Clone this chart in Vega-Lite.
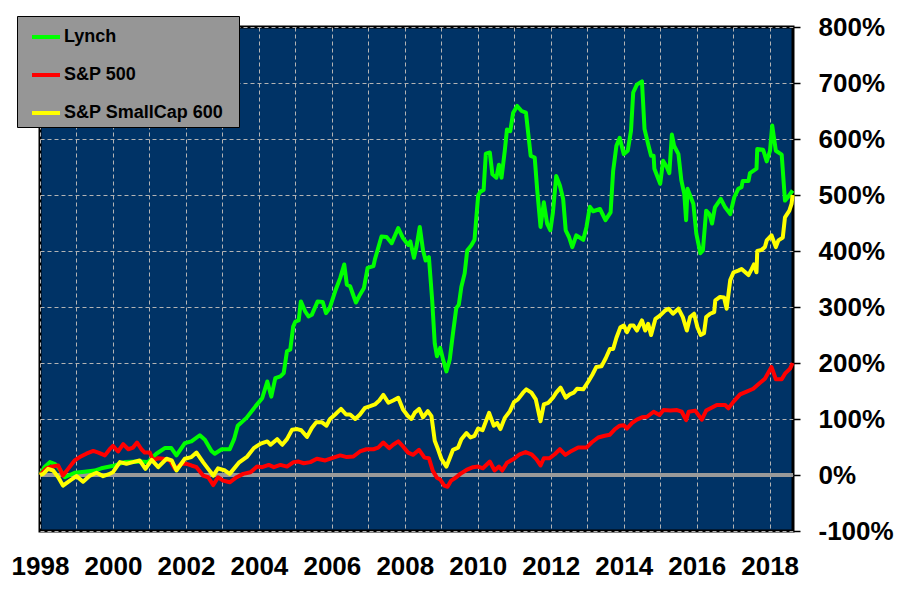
{
  "$schema": "https://vega.github.io/schema/vega-lite/v6.json",
  "width": 753,
  "height": 504,
  "autosize": {"type": "none"},
  "padding": {"left": 40, "top": 27, "right": 108, "bottom": 81},
  "background": "white",
  "config": {
    "view": {"fill": "#003366", "stroke": "black", "strokeWidth": 3},
    "font": "Liberation Sans"
  },
  "encoding": {
    "y": {
      "field": "pct",
      "type": "quantitative",
      "scale": {"domain": [-100, 800], "nice": false, "zero": false},
      "axis": {
        "orient": "right",
        "values": [-100, 0, 100, 200, 300, 400, 500, 600, 700, 800],
        "labelExpr": "datum.value + '%'",
        "title": null,
        "domain": false,
        "ticks": true,
        "tickColor": "black",
        "tickSize": 7,
        "tickWidth": 1.5,
        "labelPadding": 18,
        "labelFont": "Liberation Sans",
        "labelFontSize": 26,
        "labelFontWeight": "bold",
        "labelColor": "black",
        "labelFlush": false,
        "labelOverlap": false,
        "grid": true,
        "gridColor": "#b4b4b4",
        "gridDash": [4, 3],
        "gridWidth": 1
      }
    }
  },
  "layer": [
    {
      "data": {"values": [{"pct": 0}]},
      "mark": {"type": "rule", "color": "#999999", "strokeWidth": 4}
    },
    {
      "data": {
        "values": [
          {"series": "Lynch", "year": 1998.0, "pct": 0},
          {"series": "Lynch", "year": 1998.12, "pct": 14},
          {"series": "Lynch", "year": 1998.27, "pct": 23},
          {"series": "Lynch", "year": 1998.4, "pct": 20},
          {"series": "Lynch", "year": 1998.5, "pct": 14},
          {"series": "Lynch", "year": 1998.68, "pct": -4},
          {"series": "Lynch", "year": 1998.95, "pct": 4},
          {"series": "Lynch", "year": 1999.22, "pct": 6},
          {"series": "Lynch", "year": 1999.5, "pct": 8},
          {"series": "Lynch", "year": 1999.68, "pct": 12},
          {"series": "Lynch", "year": 2000.05, "pct": 17},
          {"series": "Lynch", "year": 2000.32, "pct": 23},
          {"series": "Lynch", "year": 2000.69, "pct": 24},
          {"series": "Lynch", "year": 2000.96, "pct": 23},
          {"series": "Lynch", "year": 2001.19, "pct": 38},
          {"series": "Lynch", "year": 2001.42, "pct": 48},
          {"series": "Lynch", "year": 2001.6, "pct": 48},
          {"series": "Lynch", "year": 2001.74, "pct": 35},
          {"series": "Lynch", "year": 2001.97, "pct": 57},
          {"series": "Lynch", "year": 2002.15, "pct": 60},
          {"series": "Lynch", "year": 2002.38, "pct": 71},
          {"series": "Lynch", "year": 2002.52, "pct": 63},
          {"series": "Lynch", "year": 2002.7, "pct": 43},
          {"series": "Lynch", "year": 2002.79, "pct": 38},
          {"series": "Lynch", "year": 2002.98, "pct": 46},
          {"series": "Lynch", "year": 2003.2, "pct": 46},
          {"series": "Lynch", "year": 2003.32, "pct": 64},
          {"series": "Lynch", "year": 2003.42, "pct": 88},
          {"series": "Lynch", "year": 2003.66, "pct": 102},
          {"series": "Lynch", "year": 2003.91, "pct": 123},
          {"series": "Lynch", "year": 2004.09, "pct": 137},
          {"series": "Lynch", "year": 2004.23, "pct": 167},
          {"series": "Lynch", "year": 2004.34, "pct": 140},
          {"series": "Lynch", "year": 2004.45, "pct": 173},
          {"series": "Lynch", "year": 2004.59, "pct": 176},
          {"series": "Lynch", "year": 2004.68, "pct": 182},
          {"series": "Lynch", "year": 2004.77, "pct": 221},
          {"series": "Lynch", "year": 2004.86, "pct": 224},
          {"series": "Lynch", "year": 2004.94, "pct": 265},
          {"series": "Lynch", "year": 2005.0, "pct": 274},
          {"series": "Lynch", "year": 2005.09, "pct": 276},
          {"series": "Lynch", "year": 2005.15, "pct": 310},
          {"series": "Lynch", "year": 2005.27, "pct": 292},
          {"series": "Lynch", "year": 2005.36, "pct": 283},
          {"series": "Lynch", "year": 2005.45, "pct": 286},
          {"series": "Lynch", "year": 2005.61, "pct": 310},
          {"series": "Lynch", "year": 2005.75, "pct": 309},
          {"series": "Lynch", "year": 2005.84, "pct": 289},
          {"series": "Lynch", "year": 2005.94, "pct": 298},
          {"series": "Lynch", "year": 2006.09, "pct": 328},
          {"series": "Lynch", "year": 2006.23, "pct": 352},
          {"series": "Lynch", "year": 2006.34, "pct": 376},
          {"series": "Lynch", "year": 2006.41, "pct": 340},
          {"series": "Lynch", "year": 2006.5, "pct": 337},
          {"series": "Lynch", "year": 2006.66, "pct": 308},
          {"series": "Lynch", "year": 2006.77, "pct": 322},
          {"series": "Lynch", "year": 2006.88, "pct": 334},
          {"series": "Lynch", "year": 2006.98, "pct": 370},
          {"series": "Lynch", "year": 2007.14, "pct": 373},
          {"series": "Lynch", "year": 2007.18, "pct": 385},
          {"series": "Lynch", "year": 2007.36, "pct": 426},
          {"series": "Lynch", "year": 2007.5, "pct": 425},
          {"series": "Lynch", "year": 2007.64, "pct": 414},
          {"series": "Lynch", "year": 2007.82, "pct": 441},
          {"series": "Lynch", "year": 2007.95, "pct": 423},
          {"series": "Lynch", "year": 2008.09, "pct": 411},
          {"series": "Lynch", "year": 2008.15, "pct": 417},
          {"series": "Lynch", "year": 2008.25, "pct": 388},
          {"series": "Lynch", "year": 2008.32, "pct": 408},
          {"series": "Lynch", "year": 2008.41, "pct": 443},
          {"series": "Lynch", "year": 2008.5, "pct": 401},
          {"series": "Lynch", "year": 2008.57, "pct": 383},
          {"series": "Lynch", "year": 2008.66, "pct": 389},
          {"series": "Lynch", "year": 2008.75, "pct": 312},
          {"series": "Lynch", "year": 2008.82, "pct": 235},
          {"series": "Lynch", "year": 2008.88, "pct": 212},
          {"series": "Lynch", "year": 2008.97, "pct": 227},
          {"series": "Lynch", "year": 2009.05, "pct": 206},
          {"series": "Lynch", "year": 2009.14, "pct": 185},
          {"series": "Lynch", "year": 2009.23, "pct": 206},
          {"series": "Lynch", "year": 2009.32, "pct": 253},
          {"series": "Lynch", "year": 2009.41, "pct": 298},
          {"series": "Lynch", "year": 2009.48, "pct": 304},
          {"series": "Lynch", "year": 2009.55, "pct": 336},
          {"series": "Lynch", "year": 2009.64, "pct": 360},
          {"series": "Lynch", "year": 2009.71, "pct": 401},
          {"series": "Lynch", "year": 2009.82, "pct": 410},
          {"series": "Lynch", "year": 2009.91, "pct": 420},
          {"series": "Lynch", "year": 2010.01, "pct": 499},
          {"series": "Lynch", "year": 2010.07, "pct": 506},
          {"series": "Lynch", "year": 2010.16, "pct": 509},
          {"series": "Lynch", "year": 2010.22, "pct": 574},
          {"series": "Lynch", "year": 2010.33, "pct": 576},
          {"series": "Lynch", "year": 2010.4, "pct": 537},
          {"series": "Lynch", "year": 2010.51, "pct": 531},
          {"series": "Lynch", "year": 2010.58, "pct": 554},
          {"series": "Lynch", "year": 2010.65, "pct": 531},
          {"series": "Lynch", "year": 2010.74, "pct": 579},
          {"series": "Lynch", "year": 2010.8, "pct": 617},
          {"series": "Lynch", "year": 2010.89, "pct": 614},
          {"series": "Lynch", "year": 2010.97, "pct": 647},
          {"series": "Lynch", "year": 2011.08, "pct": 659},
          {"series": "Lynch", "year": 2011.2, "pct": 650},
          {"series": "Lynch", "year": 2011.32, "pct": 647},
          {"series": "Lynch", "year": 2011.45, "pct": 570},
          {"series": "Lynch", "year": 2011.56, "pct": 567},
          {"series": "Lynch", "year": 2011.63, "pct": 508},
          {"series": "Lynch", "year": 2011.72, "pct": 443},
          {"series": "Lynch", "year": 2011.81, "pct": 487},
          {"series": "Lynch", "year": 2011.9, "pct": 449},
          {"series": "Lynch", "year": 2011.99, "pct": 437},
          {"series": "Lynch", "year": 2012.06, "pct": 469},
          {"series": "Lynch", "year": 2012.15, "pct": 534},
          {"series": "Lynch", "year": 2012.25, "pct": 517},
          {"series": "Lynch", "year": 2012.34, "pct": 493},
          {"series": "Lynch", "year": 2012.41, "pct": 437},
          {"series": "Lynch", "year": 2012.5, "pct": 425},
          {"series": "Lynch", "year": 2012.59, "pct": 407},
          {"series": "Lynch", "year": 2012.7, "pct": 428},
          {"series": "Lynch", "year": 2012.89, "pct": 420},
          {"series": "Lynch", "year": 2012.98, "pct": 443},
          {"series": "Lynch", "year": 2013.07, "pct": 479},
          {"series": "Lynch", "year": 2013.16, "pct": 471},
          {"series": "Lynch", "year": 2013.35, "pct": 475},
          {"series": "Lynch", "year": 2013.5, "pct": 455},
          {"series": "Lynch", "year": 2013.64, "pct": 469},
          {"series": "Lynch", "year": 2013.71, "pct": 543},
          {"series": "Lynch", "year": 2013.8, "pct": 588},
          {"series": "Lynch", "year": 2013.89, "pct": 602},
          {"series": "Lynch", "year": 2014.0, "pct": 573},
          {"series": "Lynch", "year": 2014.11, "pct": 579},
          {"series": "Lynch", "year": 2014.2, "pct": 615},
          {"series": "Lynch", "year": 2014.26, "pct": 683},
          {"series": "Lynch", "year": 2014.36, "pct": 697},
          {"series": "Lynch", "year": 2014.5, "pct": 703},
          {"series": "Lynch", "year": 2014.57, "pct": 618},
          {"series": "Lynch", "year": 2014.68, "pct": 588},
          {"series": "Lynch", "year": 2014.75, "pct": 570},
          {"series": "Lynch", "year": 2014.82, "pct": 570},
          {"series": "Lynch", "year": 2014.84, "pct": 547},
          {"series": "Lynch", "year": 2015.0, "pct": 520},
          {"series": "Lynch", "year": 2015.08, "pct": 561},
          {"series": "Lynch", "year": 2015.18, "pct": 550},
          {"series": "Lynch", "year": 2015.25, "pct": 539},
          {"series": "Lynch", "year": 2015.32, "pct": 608},
          {"series": "Lynch", "year": 2015.38, "pct": 588},
          {"series": "Lynch", "year": 2015.5, "pct": 573},
          {"series": "Lynch", "year": 2015.58, "pct": 526},
          {"series": "Lynch", "year": 2015.66, "pct": 502},
          {"series": "Lynch", "year": 2015.71, "pct": 455},
          {"series": "Lynch", "year": 2015.75, "pct": 511},
          {"series": "Lynch", "year": 2015.82, "pct": 499},
          {"series": "Lynch", "year": 2015.91, "pct": 484},
          {"series": "Lynch", "year": 2015.99, "pct": 431},
          {"series": "Lynch", "year": 2016.1, "pct": 396},
          {"series": "Lynch", "year": 2016.17, "pct": 401},
          {"series": "Lynch", "year": 2016.26, "pct": 472},
          {"series": "Lynch", "year": 2016.35, "pct": 466},
          {"series": "Lynch", "year": 2016.42, "pct": 449},
          {"series": "Lynch", "year": 2016.5, "pct": 478},
          {"series": "Lynch", "year": 2016.66, "pct": 493},
          {"series": "Lynch", "year": 2016.78, "pct": 478},
          {"series": "Lynch", "year": 2016.92, "pct": 466},
          {"series": "Lynch", "year": 2017.03, "pct": 496},
          {"series": "Lynch", "year": 2017.14, "pct": 511},
          {"series": "Lynch", "year": 2017.23, "pct": 514},
          {"series": "Lynch", "year": 2017.26, "pct": 525},
          {"series": "Lynch", "year": 2017.42, "pct": 525},
          {"series": "Lynch", "year": 2017.46, "pct": 539},
          {"series": "Lynch", "year": 2017.64, "pct": 547},
          {"series": "Lynch", "year": 2017.66, "pct": 582},
          {"series": "Lynch", "year": 2017.82, "pct": 581},
          {"series": "Lynch", "year": 2017.92, "pct": 560},
          {"series": "Lynch", "year": 2018.01, "pct": 579},
          {"series": "Lynch", "year": 2018.07, "pct": 624},
          {"series": "Lynch", "year": 2018.17, "pct": 579},
          {"series": "Lynch", "year": 2018.33, "pct": 572},
          {"series": "Lynch", "year": 2018.42, "pct": 490},
          {"series": "Lynch", "year": 2018.5, "pct": 496},
          {"series": "Lynch", "year": 2018.63, "pct": 508},

          {"series": "S&P 500", "year": 1998.0, "pct": 0},
          {"series": "S&P 500", "year": 1998.18, "pct": 12},
          {"series": "S&P 500", "year": 1998.31, "pct": 15},
          {"series": "S&P 500", "year": 1998.5, "pct": 17},
          {"series": "S&P 500", "year": 1998.63, "pct": -1},
          {"series": "S&P 500", "year": 1998.77, "pct": 11},
          {"series": "S&P 500", "year": 1998.95, "pct": 26},
          {"series": "S&P 500", "year": 1999.09, "pct": 32},
          {"series": "S&P 500", "year": 1999.27, "pct": 38},
          {"series": "S&P 500", "year": 1999.46, "pct": 43},
          {"series": "S&P 500", "year": 1999.6, "pct": 40},
          {"series": "S&P 500", "year": 1999.78, "pct": 35},
          {"series": "S&P 500", "year": 1999.91, "pct": 46},
          {"series": "S&P 500", "year": 2000.0, "pct": 52},
          {"series": "S&P 500", "year": 2000.14, "pct": 42},
          {"series": "S&P 500", "year": 2000.28, "pct": 55},
          {"series": "S&P 500", "year": 2000.42, "pct": 46},
          {"series": "S&P 500", "year": 2000.55, "pct": 49},
          {"series": "S&P 500", "year": 2000.66, "pct": 58},
          {"series": "S&P 500", "year": 2000.78, "pct": 46},
          {"series": "S&P 500", "year": 2000.87, "pct": 40},
          {"series": "S&P 500", "year": 2001.01, "pct": 40},
          {"series": "S&P 500", "year": 2001.1, "pct": 26},
          {"series": "S&P 500", "year": 2001.24, "pct": 30},
          {"series": "S&P 500", "year": 2001.38, "pct": 29},
          {"series": "S&P 500", "year": 2001.56, "pct": 26},
          {"series": "S&P 500", "year": 2001.7, "pct": 11},
          {"series": "S&P 500", "year": 2001.88, "pct": 20},
          {"series": "S&P 500", "year": 2002.02, "pct": 20},
          {"series": "S&P 500", "year": 2002.15, "pct": 17},
          {"series": "S&P 500", "year": 2002.29, "pct": 14},
          {"series": "S&P 500", "year": 2002.47, "pct": -1},
          {"series": "S&P 500", "year": 2002.61, "pct": -4},
          {"series": "S&P 500", "year": 2002.75, "pct": -18},
          {"series": "S&P 500", "year": 2002.88, "pct": -4},
          {"series": "S&P 500", "year": 2003.02, "pct": -10},
          {"series": "S&P 500", "year": 2003.2, "pct": -13},
          {"series": "S&P 500", "year": 2003.39, "pct": -4},
          {"series": "S&P 500", "year": 2003.57, "pct": 2},
          {"series": "S&P 500", "year": 2003.77, "pct": 5},
          {"series": "S&P 500", "year": 2003.95, "pct": 15},
          {"series": "S&P 500", "year": 2004.09, "pct": 14},
          {"series": "S&P 500", "year": 2004.27, "pct": 18},
          {"series": "S&P 500", "year": 2004.41, "pct": 14},
          {"series": "S&P 500", "year": 2004.59, "pct": 18},
          {"series": "S&P 500", "year": 2004.77, "pct": 15},
          {"series": "S&P 500", "year": 2004.95, "pct": 23},
          {"series": "S&P 500", "year": 2005.09, "pct": 24},
          {"series": "S&P 500", "year": 2005.23, "pct": 21},
          {"series": "S&P 500", "year": 2005.41, "pct": 23},
          {"series": "S&P 500", "year": 2005.59, "pct": 29},
          {"series": "S&P 500", "year": 2005.82, "pct": 26},
          {"series": "S&P 500", "year": 2006.0, "pct": 30},
          {"series": "S&P 500", "year": 2006.23, "pct": 35},
          {"series": "S&P 500", "year": 2006.41, "pct": 32},
          {"series": "S&P 500", "year": 2006.59, "pct": 33},
          {"series": "S&P 500", "year": 2006.77, "pct": 42},
          {"series": "S&P 500", "year": 2006.95, "pct": 46},
          {"series": "S&P 500", "year": 2007.14, "pct": 46},
          {"series": "S&P 500", "year": 2007.27, "pct": 49},
          {"series": "S&P 500", "year": 2007.41, "pct": 58},
          {"series": "S&P 500", "year": 2007.57, "pct": 48},
          {"series": "S&P 500", "year": 2007.68, "pct": 54},
          {"series": "S&P 500", "year": 2007.82, "pct": 60},
          {"series": "S&P 500", "year": 2007.95, "pct": 51},
          {"series": "S&P 500", "year": 2008.09, "pct": 40},
          {"series": "S&P 500", "year": 2008.23, "pct": 36},
          {"series": "S&P 500", "year": 2008.39, "pct": 45},
          {"series": "S&P 500", "year": 2008.54, "pct": 31},
          {"series": "S&P 500", "year": 2008.66, "pct": 30},
          {"series": "S&P 500", "year": 2008.77, "pct": 7},
          {"series": "S&P 500", "year": 2008.88, "pct": -5},
          {"series": "S&P 500", "year": 2008.97, "pct": -8},
          {"series": "S&P 500", "year": 2009.08, "pct": -19},
          {"series": "S&P 500", "year": 2009.17, "pct": -21},
          {"series": "S&P 500", "year": 2009.27, "pct": -10},
          {"series": "S&P 500", "year": 2009.41, "pct": -4},
          {"series": "S&P 500", "year": 2009.52, "pct": 2},
          {"series": "S&P 500", "year": 2009.69, "pct": 9},
          {"series": "S&P 500", "year": 2009.87, "pct": 14},
          {"series": "S&P 500", "year": 2010.01, "pct": 15},
          {"series": "S&P 500", "year": 2010.14, "pct": 12},
          {"series": "S&P 500", "year": 2010.33, "pct": 24},
          {"series": "S&P 500", "year": 2010.46, "pct": 8},
          {"series": "S&P 500", "year": 2010.58, "pct": 15},
          {"series": "S&P 500", "year": 2010.67, "pct": 8},
          {"series": "S&P 500", "year": 2010.8, "pct": 22},
          {"series": "S&P 500", "year": 2010.97, "pct": 28},
          {"series": "S&P 500", "year": 2011.15, "pct": 37},
          {"series": "S&P 500", "year": 2011.31, "pct": 41},
          {"series": "S&P 500", "year": 2011.47, "pct": 37},
          {"series": "S&P 500", "year": 2011.61, "pct": 28},
          {"series": "S&P 500", "year": 2011.72, "pct": 17},
          {"series": "S&P 500", "year": 2011.81, "pct": 30},
          {"series": "S&P 500", "year": 2011.97, "pct": 30},
          {"series": "S&P 500", "year": 2012.11, "pct": 37},
          {"series": "S&P 500", "year": 2012.25, "pct": 46},
          {"series": "S&P 500", "year": 2012.4, "pct": 36},
          {"series": "S&P 500", "year": 2012.57, "pct": 43},
          {"series": "S&P 500", "year": 2012.75, "pct": 49},
          {"series": "S&P 500", "year": 2012.98, "pct": 49},
          {"series": "S&P 500", "year": 2013.12, "pct": 58},
          {"series": "S&P 500", "year": 2013.3, "pct": 67},
          {"series": "S&P 500", "year": 2013.48, "pct": 70},
          {"series": "S&P 500", "year": 2013.62, "pct": 72},
          {"series": "S&P 500", "year": 2013.76, "pct": 82},
          {"series": "S&P 500", "year": 2013.89, "pct": 88},
          {"series": "S&P 500", "year": 2014.0, "pct": 89},
          {"series": "S&P 500", "year": 2014.09, "pct": 83},
          {"series": "S&P 500", "year": 2014.23, "pct": 93},
          {"series": "S&P 500", "year": 2014.36, "pct": 99},
          {"series": "S&P 500", "year": 2014.5, "pct": 103},
          {"series": "S&P 500", "year": 2014.64, "pct": 104},
          {"series": "S&P 500", "year": 2014.82, "pct": 113},
          {"series": "S&P 500", "year": 2014.98, "pct": 107},
          {"series": "S&P 500", "year": 2015.09, "pct": 116},
          {"series": "S&P 500", "year": 2015.28, "pct": 115},
          {"series": "S&P 500", "year": 2015.46, "pct": 116},
          {"series": "S&P 500", "year": 2015.59, "pct": 113},
          {"series": "S&P 500", "year": 2015.71, "pct": 98},
          {"series": "S&P 500", "year": 2015.78, "pct": 113},
          {"series": "S&P 500", "year": 2015.96, "pct": 115},
          {"series": "S&P 500", "year": 2016.14, "pct": 99},
          {"series": "S&P 500", "year": 2016.26, "pct": 115},
          {"series": "S&P 500", "year": 2016.46, "pct": 122},
          {"series": "S&P 500", "year": 2016.55, "pct": 125},
          {"series": "S&P 500", "year": 2016.78, "pct": 125},
          {"series": "S&P 500", "year": 2016.87, "pct": 119},
          {"series": "S&P 500", "year": 2017.01, "pct": 131},
          {"series": "S&P 500", "year": 2017.19, "pct": 144},
          {"series": "S&P 500", "year": 2017.37, "pct": 149},
          {"series": "S&P 500", "year": 2017.55, "pct": 154},
          {"series": "S&P 500", "year": 2017.69, "pct": 162},
          {"series": "S&P 500", "year": 2017.87, "pct": 172},
          {"series": "S&P 500", "year": 2018.05, "pct": 193},
          {"series": "S&P 500", "year": 2018.17, "pct": 171},
          {"series": "S&P 500", "year": 2018.33, "pct": 171},
          {"series": "S&P 500", "year": 2018.42, "pct": 181},
          {"series": "S&P 500", "year": 2018.56, "pct": 190},
          {"series": "S&P 500", "year": 2018.63, "pct": 200},

          {"series": "S&P SmallCap 600", "year": 1998.0, "pct": 0},
          {"series": "S&P SmallCap 600", "year": 1998.09, "pct": 2},
          {"series": "S&P SmallCap 600", "year": 1998.22, "pct": 11},
          {"series": "S&P SmallCap 600", "year": 1998.36, "pct": 8},
          {"series": "S&P SmallCap 600", "year": 1998.5, "pct": -4},
          {"series": "S&P SmallCap 600", "year": 1998.63, "pct": -19},
          {"series": "S&P SmallCap 600", "year": 1998.82, "pct": -10},
          {"series": "S&P SmallCap 600", "year": 1999.0, "pct": -2},
          {"series": "S&P SmallCap 600", "year": 1999.18, "pct": -12},
          {"series": "S&P SmallCap 600", "year": 1999.37, "pct": -1},
          {"series": "S&P SmallCap 600", "year": 1999.55, "pct": 4},
          {"series": "S&P SmallCap 600", "year": 1999.73, "pct": -2},
          {"series": "S&P SmallCap 600", "year": 1999.87, "pct": 1},
          {"series": "S&P SmallCap 600", "year": 2000.0, "pct": 5},
          {"series": "S&P SmallCap 600", "year": 2000.19, "pct": 23},
          {"series": "S&P SmallCap 600", "year": 2000.37, "pct": 20},
          {"series": "S&P SmallCap 600", "year": 2000.55, "pct": 23},
          {"series": "S&P SmallCap 600", "year": 2000.73, "pct": 26},
          {"series": "S&P SmallCap 600", "year": 2000.89, "pct": 11},
          {"series": "S&P SmallCap 600", "year": 2001.06, "pct": 27},
          {"series": "S&P SmallCap 600", "year": 2001.24, "pct": 14},
          {"series": "S&P SmallCap 600", "year": 2001.47, "pct": 29},
          {"series": "S&P SmallCap 600", "year": 2001.61, "pct": 26},
          {"series": "S&P SmallCap 600", "year": 2001.74, "pct": 8},
          {"series": "S&P SmallCap 600", "year": 2001.97, "pct": 29},
          {"series": "S&P SmallCap 600", "year": 2002.15, "pct": 32},
          {"series": "S&P SmallCap 600", "year": 2002.29, "pct": 40},
          {"series": "S&P SmallCap 600", "year": 2002.47, "pct": 23},
          {"series": "S&P SmallCap 600", "year": 2002.61, "pct": 11},
          {"series": "S&P SmallCap 600", "year": 2002.75, "pct": -1},
          {"series": "S&P SmallCap 600", "year": 2002.88, "pct": 12},
          {"series": "S&P SmallCap 600", "year": 2003.07, "pct": 8},
          {"series": "S&P SmallCap 600", "year": 2003.2, "pct": 2},
          {"series": "S&P SmallCap 600", "year": 2003.45, "pct": 22},
          {"series": "S&P SmallCap 600", "year": 2003.68, "pct": 33},
          {"series": "S&P SmallCap 600", "year": 2003.86, "pct": 48},
          {"series": "S&P SmallCap 600", "year": 2004.05, "pct": 56},
          {"series": "S&P SmallCap 600", "year": 2004.23, "pct": 60},
          {"series": "S&P SmallCap 600", "year": 2004.32, "pct": 54},
          {"series": "S&P SmallCap 600", "year": 2004.5, "pct": 64},
          {"series": "S&P SmallCap 600", "year": 2004.64, "pct": 54},
          {"series": "S&P SmallCap 600", "year": 2004.77, "pct": 64},
          {"series": "S&P SmallCap 600", "year": 2004.91, "pct": 81},
          {"series": "S&P SmallCap 600", "year": 2005.05, "pct": 82},
          {"series": "S&P SmallCap 600", "year": 2005.16, "pct": 80},
          {"series": "S&P SmallCap 600", "year": 2005.32, "pct": 68},
          {"series": "S&P SmallCap 600", "year": 2005.45, "pct": 84},
          {"series": "S&P SmallCap 600", "year": 2005.57, "pct": 94},
          {"series": "S&P SmallCap 600", "year": 2005.73, "pct": 94},
          {"series": "S&P SmallCap 600", "year": 2005.85, "pct": 88},
          {"series": "S&P SmallCap 600", "year": 2005.95, "pct": 100},
          {"series": "S&P SmallCap 600", "year": 2006.09, "pct": 108},
          {"series": "S&P SmallCap 600", "year": 2006.25, "pct": 118},
          {"series": "S&P SmallCap 600", "year": 2006.39, "pct": 108},
          {"series": "S&P SmallCap 600", "year": 2006.5, "pct": 108},
          {"series": "S&P SmallCap 600", "year": 2006.64, "pct": 100},
          {"series": "S&P SmallCap 600", "year": 2006.77, "pct": 108},
          {"series": "S&P SmallCap 600", "year": 2006.91, "pct": 120},
          {"series": "S&P SmallCap 600", "year": 2007.05, "pct": 123},
          {"series": "S&P SmallCap 600", "year": 2007.18, "pct": 126},
          {"series": "S&P SmallCap 600", "year": 2007.3, "pct": 133},
          {"series": "S&P SmallCap 600", "year": 2007.41, "pct": 143},
          {"series": "S&P SmallCap 600", "year": 2007.55, "pct": 129},
          {"series": "S&P SmallCap 600", "year": 2007.68, "pct": 133},
          {"series": "S&P SmallCap 600", "year": 2007.82, "pct": 138},
          {"series": "S&P SmallCap 600", "year": 2007.95, "pct": 117},
          {"series": "S&P SmallCap 600", "year": 2008.09, "pct": 105},
          {"series": "S&P SmallCap 600", "year": 2008.18, "pct": 100},
          {"series": "S&P SmallCap 600", "year": 2008.27, "pct": 111},
          {"series": "S&P SmallCap 600", "year": 2008.39, "pct": 118},
          {"series": "S&P SmallCap 600", "year": 2008.5, "pct": 103},
          {"series": "S&P SmallCap 600", "year": 2008.63, "pct": 114},
          {"series": "S&P SmallCap 600", "year": 2008.73, "pct": 105},
          {"series": "S&P SmallCap 600", "year": 2008.82, "pct": 61},
          {"series": "S&P SmallCap 600", "year": 2008.91, "pct": 46},
          {"series": "S&P SmallCap 600", "year": 2009.0, "pct": 29},
          {"series": "S&P SmallCap 600", "year": 2009.14, "pct": 15},
          {"series": "S&P SmallCap 600", "year": 2009.23, "pct": 30},
          {"series": "S&P SmallCap 600", "year": 2009.32, "pct": 45},
          {"series": "S&P SmallCap 600", "year": 2009.46, "pct": 49},
          {"series": "S&P SmallCap 600", "year": 2009.55, "pct": 64},
          {"series": "S&P SmallCap 600", "year": 2009.69, "pct": 75},
          {"series": "S&P SmallCap 600", "year": 2009.8, "pct": 67},
          {"series": "S&P SmallCap 600", "year": 2009.91, "pct": 70},
          {"series": "S&P SmallCap 600", "year": 2010.01, "pct": 83},
          {"series": "S&P SmallCap 600", "year": 2010.13, "pct": 80},
          {"series": "S&P SmallCap 600", "year": 2010.31, "pct": 111},
          {"series": "S&P SmallCap 600", "year": 2010.44, "pct": 88},
          {"series": "S&P SmallCap 600", "year": 2010.53, "pct": 93},
          {"series": "S&P SmallCap 600", "year": 2010.62, "pct": 82},
          {"series": "S&P SmallCap 600", "year": 2010.74, "pct": 102},
          {"series": "S&P SmallCap 600", "year": 2010.88, "pct": 114},
          {"series": "S&P SmallCap 600", "year": 2010.99, "pct": 130},
          {"series": "S&P SmallCap 600", "year": 2011.1, "pct": 135},
          {"series": "S&P SmallCap 600", "year": 2011.24, "pct": 147},
          {"series": "S&P SmallCap 600", "year": 2011.33, "pct": 153},
          {"series": "S&P SmallCap 600", "year": 2011.47, "pct": 147},
          {"series": "S&P SmallCap 600", "year": 2011.59, "pct": 135},
          {"series": "S&P SmallCap 600", "year": 2011.72, "pct": 96},
          {"series": "S&P SmallCap 600", "year": 2011.81, "pct": 126},
          {"series": "S&P SmallCap 600", "year": 2011.93, "pct": 129},
          {"series": "S&P SmallCap 600", "year": 2012.06, "pct": 138},
          {"series": "S&P SmallCap 600", "year": 2012.15, "pct": 147},
          {"series": "S&P SmallCap 600", "year": 2012.27, "pct": 156},
          {"series": "S&P SmallCap 600", "year": 2012.41, "pct": 138},
          {"series": "S&P SmallCap 600", "year": 2012.52, "pct": 144},
          {"series": "S&P SmallCap 600", "year": 2012.63, "pct": 147},
          {"series": "S&P SmallCap 600", "year": 2012.72, "pct": 154},
          {"series": "S&P SmallCap 600", "year": 2012.89, "pct": 153},
          {"series": "S&P SmallCap 600", "year": 2013.03, "pct": 167},
          {"series": "S&P SmallCap 600", "year": 2013.14, "pct": 179},
          {"series": "S&P SmallCap 600", "year": 2013.25, "pct": 193},
          {"series": "S&P SmallCap 600", "year": 2013.39, "pct": 194},
          {"series": "S&P SmallCap 600", "year": 2013.51, "pct": 209},
          {"series": "S&P SmallCap 600", "year": 2013.62, "pct": 225},
          {"series": "S&P SmallCap 600", "year": 2013.71, "pct": 225},
          {"series": "S&P SmallCap 600", "year": 2013.8, "pct": 245},
          {"series": "S&P SmallCap 600", "year": 2013.91, "pct": 264},
          {"series": "S&P SmallCap 600", "year": 2014.0, "pct": 267},
          {"series": "S&P SmallCap 600", "year": 2014.09, "pct": 255},
          {"series": "S&P SmallCap 600", "year": 2014.18, "pct": 267},
          {"series": "S&P SmallCap 600", "year": 2014.27, "pct": 267},
          {"series": "S&P SmallCap 600", "year": 2014.36, "pct": 258},
          {"series": "S&P SmallCap 600", "year": 2014.5, "pct": 276},
          {"series": "S&P SmallCap 600", "year": 2014.59, "pct": 258},
          {"series": "S&P SmallCap 600", "year": 2014.67, "pct": 270},
          {"series": "S&P SmallCap 600", "year": 2014.75, "pct": 250},
          {"series": "S&P SmallCap 600", "year": 2014.87, "pct": 279},
          {"series": "S&P SmallCap 600", "year": 2015.0, "pct": 285},
          {"series": "S&P SmallCap 600", "year": 2015.14, "pct": 294},
          {"series": "S&P SmallCap 600", "year": 2015.23, "pct": 297},
          {"series": "S&P SmallCap 600", "year": 2015.35, "pct": 288},
          {"series": "S&P SmallCap 600", "year": 2015.5, "pct": 297},
          {"series": "S&P SmallCap 600", "year": 2015.62, "pct": 282},
          {"series": "S&P SmallCap 600", "year": 2015.73, "pct": 258},
          {"series": "S&P SmallCap 600", "year": 2015.82, "pct": 282},
          {"series": "S&P SmallCap 600", "year": 2015.93, "pct": 288},
          {"series": "S&P SmallCap 600", "year": 2016.02, "pct": 264},
          {"series": "S&P SmallCap 600", "year": 2016.11, "pct": 250},
          {"series": "S&P SmallCap 600", "year": 2016.2, "pct": 253},
          {"series": "S&P SmallCap 600", "year": 2016.26, "pct": 282},
          {"series": "S&P SmallCap 600", "year": 2016.37, "pct": 288},
          {"series": "S&P SmallCap 600", "year": 2016.48, "pct": 291},
          {"series": "S&P SmallCap 600", "year": 2016.51, "pct": 312},
          {"series": "S&P SmallCap 600", "year": 2016.64, "pct": 318},
          {"series": "S&P SmallCap 600", "year": 2016.75, "pct": 317},
          {"series": "S&P SmallCap 600", "year": 2016.82, "pct": 297},
          {"series": "S&P SmallCap 600", "year": 2016.92, "pct": 348},
          {"series": "S&P SmallCap 600", "year": 2017.01, "pct": 362},
          {"series": "S&P SmallCap 600", "year": 2017.14, "pct": 365},
          {"series": "S&P SmallCap 600", "year": 2017.23, "pct": 368},
          {"series": "S&P SmallCap 600", "year": 2017.42, "pct": 357},
          {"series": "S&P SmallCap 600", "year": 2017.51, "pct": 368},
          {"series": "S&P SmallCap 600", "year": 2017.57, "pct": 376},
          {"series": "S&P SmallCap 600", "year": 2017.64, "pct": 362},
          {"series": "S&P SmallCap 600", "year": 2017.66, "pct": 400},
          {"series": "S&P SmallCap 600", "year": 2017.78, "pct": 402},
          {"series": "S&P SmallCap 600", "year": 2017.87, "pct": 407},
          {"series": "S&P SmallCap 600", "year": 2017.92, "pct": 419},
          {"series": "S&P SmallCap 600", "year": 2018.05, "pct": 428},
          {"series": "S&P SmallCap 600", "year": 2018.17, "pct": 407},
          {"series": "S&P SmallCap 600", "year": 2018.24, "pct": 419},
          {"series": "S&P SmallCap 600", "year": 2018.36, "pct": 424},
          {"series": "S&P SmallCap 600", "year": 2018.42, "pct": 460},
          {"series": "S&P SmallCap 600", "year": 2018.54, "pct": 472},
          {"series": "S&P SmallCap 600", "year": 2018.6, "pct": 484},
          {"series": "S&P SmallCap 600", "year": 2018.63, "pct": 500}
        ]
      },
      "mark": {"type": "line", "strokeWidth": 4, "strokeJoin": "round"},
      "encoding": {
        "x": {
          "field": "year",
          "type": "quantitative",
          "scale": {"domain": [1998, 2018.64], "nice": false, "zero": false},
          "axis": {
            "values": [1998, 1999, 2000, 2001, 2002, 2003, 2004, 2005, 2006, 2007, 2008, 2009, 2010, 2011, 2012, 2013, 2014, 2015, 2016, 2017, 2018],
            "labelExpr": "datum.value % 2 == 0 ? toString(datum.value) : ''",
            "title": null,
            "domain": false,
            "ticks": false,
            "tickSize": 0,
            "labelPadding": 22,
            "labelFont": "Liberation Sans",
            "labelFontSize": 26,
            "labelFontWeight": "bold",
            "labelColor": "black",
            "labelFlush": false,
            "labelOverlap": false,
            "grid": true,
            "gridColor": "#b4b4b4",
            "gridDash": [4, 3],
            "gridWidth": 1
          }
        },
        "color": {
          "field": "series",
          "type": "nominal",
          "scale": {
            "domain": ["Lynch", "S&P 500", "S&P SmallCap 600"],
            "range": ["#00ff00", "#ff0000", "#ffff00"]
          },
          "legend": {
            "orient": "none",
            "legendX": -23,
            "legendY": -11,
            "title": null,
            "fillColor": "#969696",
            "strokeColor": "black",
            "padding": 5,
            "symbolType": "stroke",
            "symbolSize": 784,
            "symbolStrokeWidth": 4,
            "symbolOffset": 8,
            "labelOffset": 2,
            "labelFont": "Liberation Sans",
            "labelFontSize": 18,
            "labelFontWeight": "bold",
            "labelColor": "black",
            "labelLimit": 300,
            "rowPadding": 13,
            "labelExpr": "datum.label + '\u00a0\u00a0\u200b'"
          }
        }
      }
    }
  ]
}
